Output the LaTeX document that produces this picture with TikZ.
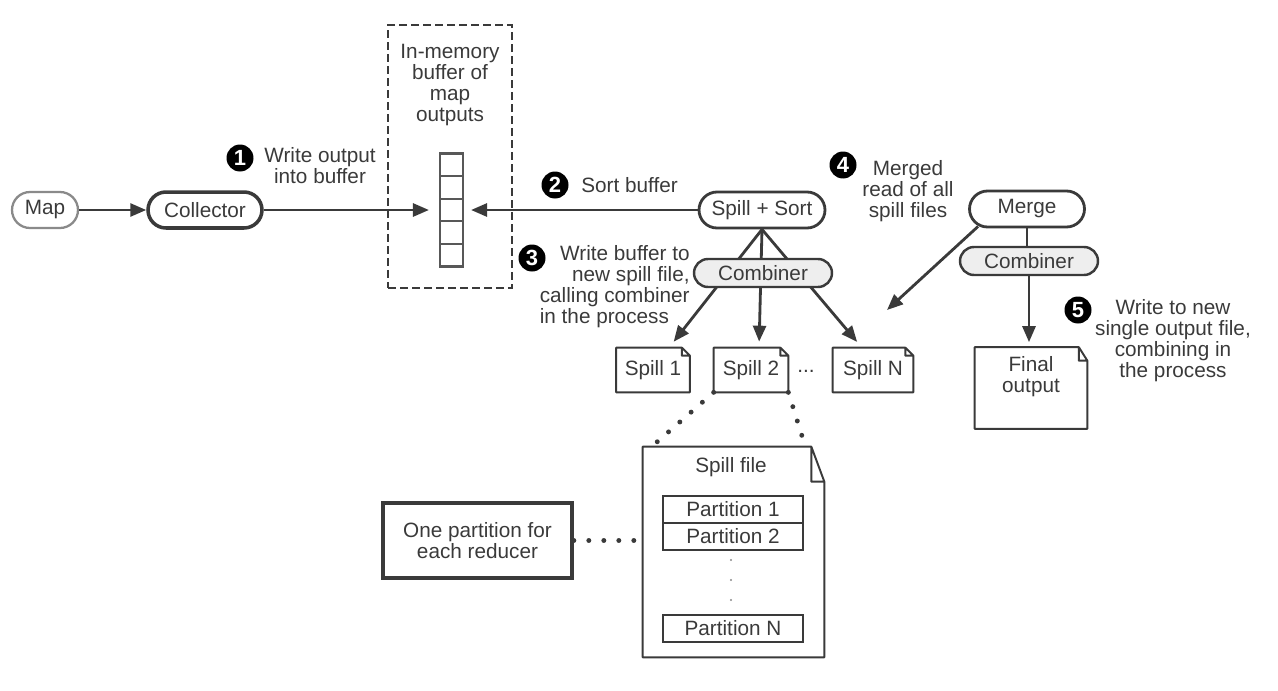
\documentclass[tikz,border=0pt]{standalone}
\usepackage{fontspec}
\setmainfont{Liberation Sans}
\usepackage{xcolor}
\usepackage{tikz}
\usetikzlibrary{arrows.meta, positioning}

\definecolor{ink}{HTML}{3A3A3A}
\definecolor{lightink}{HTML}{8A8A8A}
\definecolor{combfill}{HTML}{EEEEEE}

\tikzset{
  pill/.style={draw=ink, line width=1.6pt, rounded corners=0.36cm, minimum height=0.72cm, inner sep=0pt},
  combiner/.style={draw=ink, line width=1.4pt, fill=combfill, rounded corners=0.28cm, minimum width=2.76cm, minimum height=0.56cm, inner sep=0pt},
  docbox/.style={inner sep=0pt},
  partbox/.style={draw=ink, line width=1.6pt, minimum width=2.8cm, minimum height=0.54cm, inner sep=0pt},
  cellbox/.style={draw=ink!85, line width=1.2pt, minimum width=0.46cm, minimum height=0.452cm, inner sep=0pt},
  note/.style={align=center, inner sep=0pt},
  bullet/.style={circle, fill=black, minimum size=0.54cm, inner sep=0pt, text=white, font=\fontsize{12.5}{12.5}\selectfont\bfseries},
  arr/.style={draw=ink, line width=1.6pt, -{Triangle[length=0.32cm, width=0.26cm]}},
  link/.style={draw=ink, line width=1.6pt},
  dots/.style={draw=ink, line width=2.8pt, line cap=round, dash pattern=on 0pt off 0.3cm},
}

\begin{document}
\begin{tikzpicture}[x=0.02cm, y=-0.02cm, text=ink, font=\fontsize{11.8}{12}\selectfont]
    \useasboundingbox (0,0) rectangle (1278,690);

    % Map and collector
    \node[pill, draw=lightink, line width=1.3pt, minimum width=1.32cm] (map) at (45,210) {Map};
    \node[pill, line width=2pt, minimum width=2.28cm] (collector) at (205,210) {Collector};
    \draw[arr] (map) -- (collector);

    % In-memory buffer
    \node[draw=ink, line width=1.3pt, dash pattern=on 0.16cm off 0.08cm, minimum width=2.48cm, minimum height=5.26cm, inner sep=0pt] (buffer) at (450,156.5) {};
    \node[note] (buftext) at (450,85) {In-memory\\buffer of\\map\\outputs};
    \foreach \i in {0,...,4}
        \node[cellbox] (cell\i) at (451.5,{164.8+22.6*\i}) {};

    % Spill + Sort and its spill files
    \node[pill, minimum width=2.52cm] (spillsort) at (762,210) {Spill + Sort};
    \node[docbox, minimum width=1.46cm, minimum height=0.88cm] (spill1) at (653,370) {Spill 1};
    \node[docbox, minimum width=1.48cm, minimum height=0.88cm] (spill2) at (751,370) {Spill 2};
    \node[docbox, minimum width=1.6cm, minimum height=0.88cm] (spillN) at (873,370) {Spill N};
    \node (ellipsis) at (806,371) {...};

    \draw[arr, shorten >=0.2cm] (collector) -- (cell2);
    \draw[arr, shorten >=0.14cm] (spillsort) -- (cell2);
    \draw[arr, shorten >=0.15cm] (spillsort.south) -- ([xshift=0.32cm]spill1.north);
    \draw[arr, shorten >=0.12cm] (spillsort.south) -- ([xshift=0.16cm]spill2.north);
    \draw[arr, shorten >=0.15cm] (spillsort.south) -- ([xshift=-0.22cm]spillN.north);
    \node[combiner] (comb1) at (763,273) {Combiner};

    % Merge side
    \node[pill, minimum width=2.3cm] (merge) at (1027,209) {Merge};
    \node[docbox, minimum width=2.24cm, minimum height=1.62cm] (final) at (1031,388) {};
    \node[note] (finaltext) at (1031,377) {Final\\output};
    \coordinate (mergein) at (887,310);
    \draw[arr] ([xshift=0.2cm, yshift=0.04cm]merge.south west) -- (mergein);
    \draw[link] (merge.south) -- (merge.south |- 0,250);
    \node[combiner] (comb2) at (1029,261) {Combiner};
    \draw[arr, shorten >=0.1cm] (comb2.south) -- (comb2.south |- final.north);

    % Spill file detail
    \node[docbox, minimum width=3.62cm, minimum height=4.2cm] (spillfile) at (733.5,552) {};
    \node (spillfiletext) at (731,467) {Spill file};
    \node[partbox] (part1) at (733,509.5) {Partition 1};
    \node[partbox] (part2) at (733,536.5) {Partition 2};
    \node[partbox] (partN) at (733,628.5) {Partition N};
    \foreach \y in {560,580,600}
        \fill[lightink] (731,\y) circle (0.6pt);
    \node[draw=ink, line width=2.1pt, minimum width=3.78cm, minimum height=1.5cm, align=center] (reducer) at (477.5,540.5) {One partition for\\each reducer};

    % Folded-corner outlines
    \foreach \n/\fx/\fy in {spill1/0.16/0.16, spill2/0.16/0.16, spillN/0.16/0.16, final/0.17/0.27, spillfile/0.26/0.7}
        \draw[draw=ink, line width=1.1pt, line join=round]
            (\n.south west) -- (\n.north west) -- ([xshift=-\fx cm]\n.north east) -- ([yshift=-\fy cm]\n.north east) -- (\n.south east) -- cycle
            ([xshift=-\fx cm]\n.north east) |- ([yshift=-\fy cm]\n.north east);

    % Dotted call-outs
    \draw[dots] (reducer.east) -- (reducer.east -| spillfile.west);
    \draw[dots] (spill2.south west) -- ([xshift=0.18cm]spillfile.north west);
    \draw[dots] (spill2.south east) -- ([xshift=-0.38cm]spillfile.north east);

    % Numbered steps
    \node[bullet] (b1) at (240,158) {1};
    \node[note] (t1) at (320,166) {Write output\\into buffer};
    \node[bullet] (b2) at (555,185) {2};
    \node[note, anchor=west] (t2) at (581,185) {Sort buffer};
    \node[bullet] (b3) at (532,258) {3};
    \node[note, align=right, anchor=east] (t3) at (690,287) {Write buffer to\\new spill file,\\calling combiner\\\rlap{in the process}\phantom{calling combiner}};
    \node[bullet] (b4) at (843,165) {4};
    \node[note] (t4) at (908,191) {Merged\\read of all\\spill files};
    \node[bullet] (b5) at (1078,310) {5};
    \node[note] (t5) at (1173,341) {Write to new\\single output file,\\combining in\\the process};
\end{tikzpicture}
\end{document}
